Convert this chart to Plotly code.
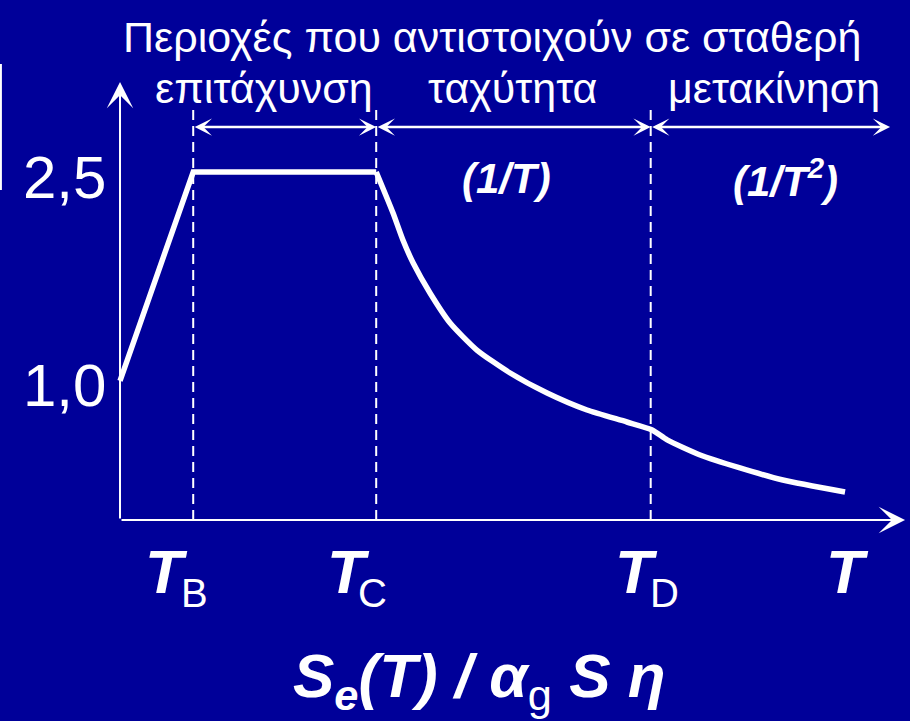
import plotly.graph_objects as go

# Spectrum shape: linear rise, plateau, 1/T branch, 1/T^2 branch
T_B, T_C, T_D = 0.20, 0.70, 1.45
t_rise = [0.0, T_B, T_C]
s_rise = [1.0, 2.5, 2.5]
t_decay = [0.70, 0.746, 0.773, 0.801, 0.847, 0.902, 0.975, 1.066, 1.167,
           1.276, 1.385, 1.454, 1.495, 1.585, 1.694, 1.811, 1.981]
s_decay = [2.5, 2.205, 2.011, 1.846, 1.631, 1.415, 1.221, 1.056, 0.912,
           0.790, 0.704, 0.647, 0.575, 0.467, 0.374, 0.287, 0.201]

y_ticks = [2.5, 1.0]
y_tick_text = ["2,5", "1,0"]
period_marks = [T_B, T_C, T_D]
region_bounds = [T_B, T_C, T_D, 2.104]
region_names = ["επιτάχυνση", "ταχύτητα", "μετακίνηση"]
title_text = "Περιοχές που αντιστοιχούν σε σταθερή"

BG = "#000099"
W, H = 910, 721
X_RANGE = [-0.3279, 2.1585]
Y_RANGE = [-1.444, 3.7356]
AX_X_END, AX_Y_END = 2.145, 3.147
SPAN_Y, DASH_TOP = 2.823, 2.97
FONT = "Liberation Sans, Arial, sans-serif"


def px(x):
    return x / W


def py(y):
    return 1 - y / H


def label(x, y, text, size, xref="paper", yref="paper", **kw):
    return dict(x=x, y=y, xref=xref, yref=yref, text=text, showarrow=False,
                xanchor="center", yanchor="middle",
                font=dict(family=FONT, size=size, color="white"), **kw)


fig = go.Figure()

# dashed guides at the corner periods
for tp in period_marks:
    fig.add_trace(go.Scatter(x=[tp, tp], y=[0, DASH_TOP], mode="lines",
                             line=dict(color="white", width=2, dash="10px,6px"),
                             hoverinfo="skip"))

fig.add_trace(go.Scatter(x=t_rise, y=s_rise, mode="lines",
                         line=dict(color="white", width=5.5), hoverinfo="skip"))
fig.add_trace(go.Scatter(x=t_decay, y=s_decay, mode="lines",
                         line=dict(color="white", width=5.5, shape="spline", smoothing=0.6),
                         hoverinfo="skip"))

ann = []
# axes with arrowheads
ann.append(dict(x=AX_X_END, y=0, ax=0, ay=0, xref="x", yref="y", axref="x", ayref="y",
                text="", showarrow=True, arrowhead=3, arrowsize=2.2, arrowwidth=2,
                arrowcolor="white"))
ann.append(dict(x=0, y=AX_Y_END, ax=0, ay=0, xref="x", yref="y", axref="x", ayref="y",
                text="", showarrow=True, arrowhead=3, arrowsize=2.2, arrowwidth=2,
                arrowcolor="white"))

# double-headed span arrows for the three regions
for a, b in zip(region_bounds[:-1], region_bounds[1:]):
    ann.append(dict(x=b, y=SPAN_Y, ax=a, ay=SPAN_Y, xref="x", yref="y", axref="x", ayref="y",
                    text="", showarrow=True, arrowside="end+start",
                    arrowhead=3, startarrowhead=3, arrowsize=1.15, startarrowsize=1.15,
                    arrowwidth=2.5, arrowcolor="white"))

# title and region names
ann.append(label(px(492), py(37), title_text, 43))
for name, cx in zip(region_names, [264, 512, 774]):
    ann.append(label(px(cx), py(88), name, 43))

# y tick labels
for v, t in zip(y_ticks, y_tick_text):
    ann.append(label(px(64), v, t, 60, yref="y", yshift=-5))

# branch labels
ann.append(label(px(506), py(178), "<b><i>(1/T)</i></b>", 42))
ann.append(label(px(785), py(178), "<b><i>(1/T<sup>2</sup>)</i></b>", 42))

# period labels on the horizontal axis
for cx, sub, sx in [(166, "B", 194), (348, "C", 372), (636, "D", 664), (847, "", None)]:
    ann.append(label(px(cx), py(571), "<b><i>T</i></b>", 62))
    if sub:
        ann.append(label(px(sx), py(593), sub, 40))

# ordinate quantity
ann.append(label(px(479), py(680),
                 "<b><i>S<sub>e</sub>(T) / α</i></b><sub>g</sub><b><i> S η</i></b>", 62))

fig.update_layout(
    width=W, height=H, margin=dict(l=0, r=0, t=0, b=0),
    paper_bgcolor=BG, plot_bgcolor=BG, showlegend=False,
    xaxis=dict(range=X_RANGE, visible=False, fixedrange=True),
    yaxis=dict(range=Y_RANGE, visible=False, fixedrange=True),
    annotations=ann,
    shapes=[dict(type="line", xref="paper", yref="paper", x0=0.001, x1=0.001,
                 y0=py(64), y1=py(190), line=dict(color="white", width=2))],
)

fig.write_html("out.html")
